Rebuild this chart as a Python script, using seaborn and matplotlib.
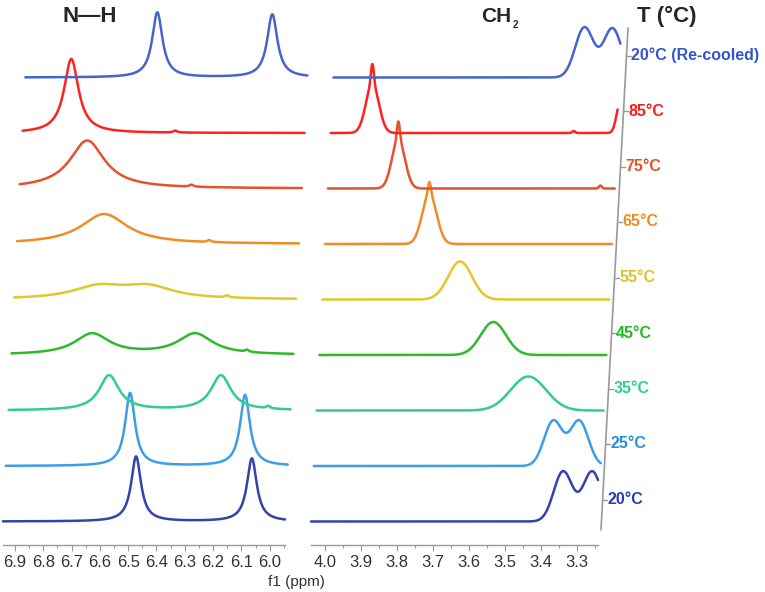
import numpy as np
import matplotlib
matplotlib.use('Agg')
import seaborn as sns
from matplotlib import pyplot as plt
from matplotlib.ticker import MultipleLocator, FormatStrFormatter

sns.set_style('white')
plt.rcParams['font.family'] = ['Liberation Sans', 'DejaVu Sans']

# spectra, bottom to top
temps = ['20°C', '25°C', '35°C', '45°C', '55°C', '65°C', '75°C', '85°C', '20°C (Re-cooled)']
line_colors = ['#3442b0', '#3d9de6', '#33cc88', '#2dba2d', '#e3c62a',
               '#f08c24', '#e5522b', '#ff2222', '#4565cc']
label_colors = ['#2a3cb0', '#2290e2', '#2fcf8c', '#22bb22', '#e0c21a',
                '#ee8a22', '#e5502a', '#ff1a1a', '#3355cc']

# N-H region: peak centre (ppm), height, FWHM (ppm)  -> lorentzian lines
nh_pos = [[6.472, 6.063], [6.503, 6.097], [6.587, 6.192, 6.025], [6.657, 6.293, 6.110],
          [6.645, 6.470, 6.190], [6.634, 6.263], [6.704, 6.336], [6.770, 6.403],
          [6.476, 6.070]]
nh_amp = [[65, 63], [73, 71], [35, 35, 2.5], [21, 21, 2], [12, 12, 2], [30, 2],
          [48, 2], [74, 2], [65, 63]]
nh_fwhm = [[0.042, 0.042], [0.042, 0.042], [0.085, 0.085, 0.015], [0.15, 0.15, 0.015],
           [0.22, 0.22, 0.015], [0.2, 0.015], [0.15, 0.015], [0.062, 0.015],
           [0.044, 0.044]]

# CH2 region: peak centre (ppm), height, sigma (ppm) -> gaussian lines
ch_pos = [[3.339, 3.258], [3.374, 3.302], [3.451], [3.556], [3.656],
          [3.749, 3.749], [3.843, 3.843, 3.282], [3.923, 3.923, 3.364, 3.235],
          [3.342, 3.264]]
ch_amp = [[50, 50], [45, 45], [34], [33], [38], [50, 12], [49, 18, 3],
          [49, 20, 2, 30], [50, 49]]
ch_sig = [[0.026, 0.026], [0.0255, 0.0255], [0.049], [0.035], [0.033],
          [0.02, 0.004], [0.018, 0.004, 0.004], [0.018, 0.004, 0.004, 0.01],
          [0.0255, 0.0255]]

W, H = 765, 592
fig = plt.figure(figsize=(W / 100, H / 100), dpi=100)


def px_axes(x0, x1, top, bottom):
    return fig.add_axes([x0 / W, 1 - bottom / H, (x1 - x0) / W, (bottom - top) / H])


ax_nh = px_axes(3, 285, 0, 545)
ax_ch = px_axes(311, 598, 0, 545)
ax_nh.set_xlim(6.942, 5.946)
ax_ch.set_xlim(4.039, 3.242)

base = 23.5     # baseline of the lowest trace (px above the axis)
step_y = 55.5   # vertical stacking step (px)
step_x = 2.8    # horizontal skew per trace (px)


def lorentz(g, pos, amp, wid):
    y = np.zeros_like(g)
    for p, a, w in zip(pos, amp, wid):
        y += a / (1 + ((g - p) / (w / 2)) ** 2)
    return y


def gauss(g, pos, amp, wid):
    y = np.zeros_like(g)
    for p, a, w in zip(pos, amp, wid):
        y += a * np.exp(-0.5 * ((g - p) / w) ** 2)
    return y


for ax, pos, amp, wid, shape, width_px in [(ax_nh, nh_pos, nh_amp, nh_fwhm, lorentz, 282),
                                          (ax_ch, ch_pos, ch_amp, ch_sig, gauss, 287)]:
    lo, hi = ax.get_xlim()
    px_per_ppm = width_px / (lo - hi)
    grid = np.linspace(lo, hi, 1500)
    for i, t in enumerate(temps):
        shift = step_x * i / px_per_ppm
        y = base + step_y * i + shape(grid, pos[i], amp[i], wid[i])
        sns.lineplot(x=grid - shift, y=y, ax=ax, color=line_colors[i], lw=1.8,
                     sort=False, estimator=None, clip_on=False)
    ax.set_ylim(0, 545)
    ax.set_yticks([])
    ax.set_ylabel('')
    for s in ['left', 'right', 'top']:
        ax.spines[s].set_visible(False)
    ax.spines['bottom'].set_color('#999999')
    ax.spines['bottom'].set_linewidth(1)
    ax.xaxis.set_major_locator(MultipleLocator(0.1))
    ax.xaxis.set_minor_locator(MultipleLocator(0.05))
    ax.xaxis.set_major_formatter(FormatStrFormatter('%.1f'))
    ax.tick_params(axis='x', which='major', direction='out', length=4, width=0.8,
                   color='#999999', labelsize=12, labelcolor='#333333', pad=3,
                   labelfontfamily='Liberation Sans', bottom=True)
    ax.tick_params(axis='x', which='minor', direction='out', length=2.5, width=0.8,
                   color='#999999', bottom=True)
    ax.patch.set_alpha(0)

# overlay in pixel coordinates for the annotations
ov = fig.add_axes([0, 0, 1, 1])
ov.set_xlim(0, W)
ov.set_ylim(H, 0)
ov.axis('off')

ov.text(296, 582, 'f1 (ppm)', ha='center', va='center', fontsize=11,
        color='#333333')

ov.text(90, 16, 'N—H', ha='center', va='center', fontsize=16, fontweight='bold')
ov.text(496, 16, 'CH', ha='center', va='center', fontsize=15, fontweight='bold')
ov.text(513, 25, '2', ha='left', va='center', fontsize=7, fontweight='bold')
ov.text(667, 16, 'T (°C)', ha='center', va='center', fontsize=16, fontweight='bold')

# slanted temperature scale
x_top, y_top, x_bot, y_bot = 628, 28, 601, 530
ov.plot([x_top, x_bot], [y_top, y_bot], color='#999999', lw=1.2)
for i, t in enumerate(temps):
    py = 545 - (base + step_y * i + 22)
    lx = x_top + (x_bot - x_top) * (py - y_top) / (y_bot - y_top)
    ov.plot([lx, lx + 4], [py, py], color='#999999', lw=1)
    ov.text(lx + 4.5, py, t, ha='left', va='center', fontsize=11.5,
            fontweight='bold', color=label_colors[i])

fig.savefig('out.png', dpi=100)
